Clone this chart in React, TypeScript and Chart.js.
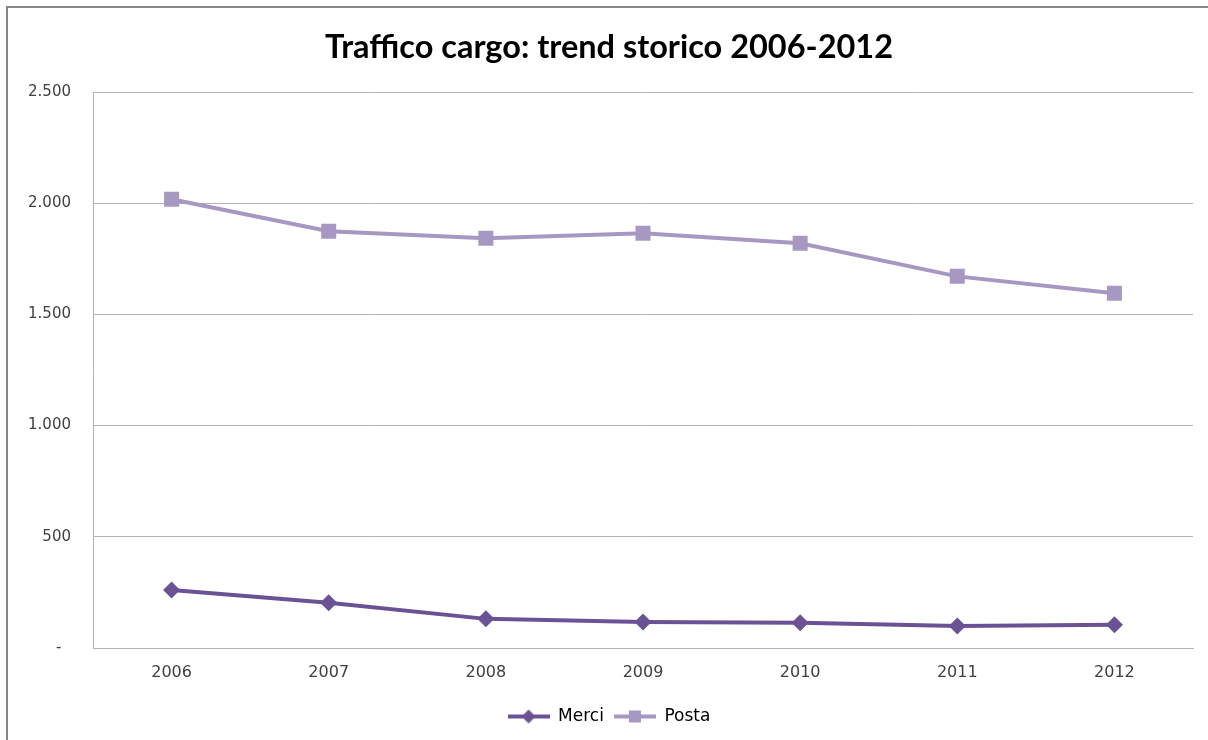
import React, { useEffect, useRef } from "react";
import { Chart, registerables } from "chart.js";

Chart.register(...registerables);

const years = ["2006", "2007", "2008", "2009", "2010", "2011", "2012"];
const merci = [261, 203, 131, 117, 113, 99, 104];
const posta = [2018, 1874, 1842, 1865, 1820, 1671, 1595];
const yTicks = [0, 500, 1000, 1500, 2000, 2500];
const titleText = "Traffico cargo: trend storico 2006-2012";

const MERCI_COLOR = "#6a5294";
const POSTA_COLOR = "#a698c2";

function fmt(v: number): string {
  if (v === 0) return "-  ";
  return String(v).replace(/\B(?=(\d{3})+(?!\d))/g, ".");
}

function legendIcon(color: string, shape: "diamond" | "square"): HTMLCanvasElement {
  const c = document.createElement("canvas");
  c.width = 42;
  c.height = 18;
  const ctx = c.getContext("2d")!;
  ctx.strokeStyle = color;
  ctx.lineWidth = 4;
  ctx.beginPath();
  ctx.moveTo(0, 9);
  ctx.lineTo(42, 9);
  ctx.stroke();
  ctx.fillStyle = color;
  ctx.beginPath();
  if (shape === "diamond") {
    ctx.moveTo(21, 2);
    ctx.lineTo(28, 9);
    ctx.lineTo(21, 16);
    ctx.lineTo(14, 9);
    ctx.closePath();
  } else {
    ctx.rect(15, 3, 12, 12);
  }
  ctx.fill();
  return c;
}

export default function App() {
  const ref = useRef<HTMLCanvasElement>(null);

  useEffect(() => {
    document.body.style.margin = "0";
    const canvas = ref.current!;
    const icons = [legendIcon(MERCI_COLOR, "diamond"), legendIcon(POSTA_COLOR, "square")];
    const chart = new Chart(canvas, {
      type: "line",
      data: {
        labels: years,
        datasets: [
          {
            label: "Merci",
            data: merci,
            borderColor: MERCI_COLOR,
            backgroundColor: MERCI_COLOR,
            borderWidth: 4,
            pointStyle: "rectRot",
            pointRadius: 8.5,
            pointBorderWidth: 0,
            tension: 0,
          },
          {
            label: "Posta",
            data: posta,
            borderColor: POSTA_COLOR,
            backgroundColor: POSTA_COLOR,
            borderWidth: 4,
            pointStyle: "rect",
            pointRadius: 10.6,
            pointBorderWidth: 0,
            tension: 0,
          },
        ],
      },
      options: {
        animation: false,
        responsive: false,
        layout: { padding: { left: 25, right: 15, top: 0, bottom: 5 } },
        scales: {
          x: {
            offset: true,
            grid: { display: false, drawTicks: false, offset: true },
            border: { display: true, color: "#b3b3b3", width: 1 },
            ticks: {
              color: "#404040",
              font: { family: "DejaVu Sans", size: 16 },
              padding: 15,
              maxRotation: 0,
            },
            afterFit: (s: any) => {
              s.height = 50;
            },
          },
          y: {
            min: 0,
            max: 2500,
            afterBuildTicks: (s: any) => {
              s.ticks = yTicks.map((v) => ({ value: v }));
            },
            grid: { color: "#b3b3b3", lineWidth: 1, drawTicks: false },
            border: { display: true, color: "#b3b3b3", width: 1 },
            ticks: {
              color: "#404040",
              font: { family: "DejaVu Sans", size: 15 },
              padding: 22,
              callback: (v: any) => fmt(Number(v)),
            },
            afterFit: (s: any) => {
              s.width = 68;
            },
          },
        },
        plugins: {
          title: {
            display: true,
            text: titleText,
            color: "#000000",
            font: { family: "Lato, sans-serif", size: 32.5, weight: "bold" },
            padding: { top: 28, bottom: 25 },
          },
          legend: {
            position: "bottom",
            labels: {
              usePointStyle: true,
              pointStyleWidth: 42,
              color: "#000000",
              font: { family: "DejaVu Sans", size: 17 },
              padding: 10,
              generateLabels: (ch: any) =>
                ch.data.datasets.map((ds: any, i: number) => ({
                  text: ds.label,
                  pointStyle: icons[i],
                  fillStyle: ds.borderColor,
                  strokeStyle: ds.borderColor,
                  lineWidth: 0,
                  hidden: false,
                  datasetIndex: i,
                  fontColor: "#000000",
                })),
            },
          },
          tooltip: { enabled: false },
        },
      },
    });
    return () => chart.destroy();
  }, []);

  return (
    <div style={{ position: "absolute", left: 0, top: 0, width: 1208, height: 740, background: "#fff" }}>
      <div
        style={{
          position: "absolute",
          left: 6,
          top: 6,
          right: 0,
          bottom: 0,
          borderTop: "2px solid #878787",
          borderLeft: "2px solid #878787",
        }}
      />
      <canvas ref={ref} width={1208} height={740} style={{ position: "absolute", left: 0, top: 0 }} />
    </div>
  );
}
